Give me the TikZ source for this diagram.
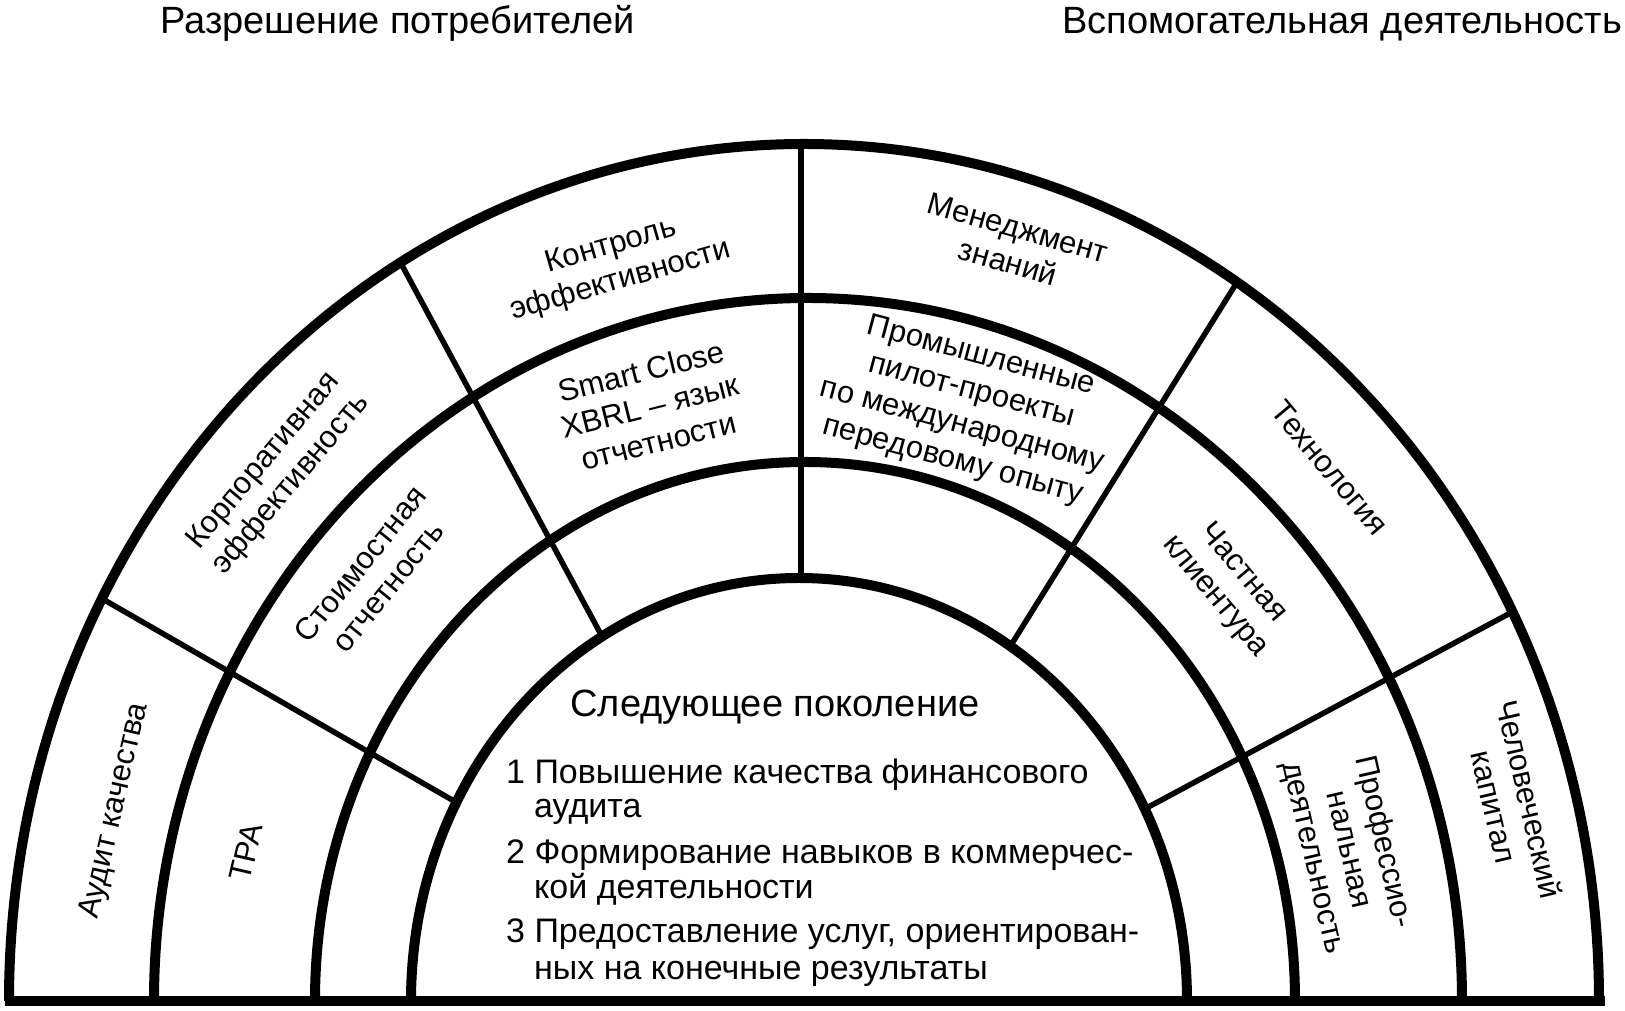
\documentclass[tikz,border=0pt]{standalone}
\usepackage{fontspec}
\setmainfont{Liberation Sans}
\usetikzlibrary{calc}
\begin{document}
\begin{tikzpicture}[x=1pt,y=1pt,
  arcline/.style={line width=10pt},
  radline/.style={line width=5.5pt},
  baseline/.style={line width=9.3pt},
  lbl/.style={align=center, font=\fontsize{31}{36}\selectfont, inner sep=0pt},
  inlist/.style={font=\fontsize{34}{40}\selectfont, inner sep=0pt, anchor=base west},
  headline/.style={font=\fontsize{38}{44}\selectfont, inner sep=0pt, anchor=base},
  toptitle/.style={font=\fontsize{38}{44}\selectfont, inner sep=0pt, anchor=base west}]
\useasboundingbox (0,0) rectangle (1625,1011);
% centres of the four arcs (the scanned figure is slightly irregular)
\coordinate (C1) at (804,10);
\coordinate (C2) at (808,10);
\coordinate (C3) at (805,10);
\coordinate (C4) at (799,10);
% radial dividers
\foreach \a/\n in {152/ra,120.5/rb,57/rd,27/re}{
  \coordinate (\n o) at ($(C1)+(\a:795pt and 857pt)$);
  \coordinate (\n i) at ($(C4)+(\a:388pt and 423pt)$);
  \draw[radline] (\n o) -- (\n i);
}
\coordinate (rco) at (801,867);
\coordinate (rci) at (801,433);
\draw[radline] (rco) -- (rci);
% arcs
\draw[arcline] ($(C1)+(180:795pt and 857pt)$) arc[start angle=180,end angle=0,x radius=795pt,y radius=857pt];
\draw[arcline] ($(C2)+(180:654pt and 703pt)$) arc[start angle=180,end angle=0,x radius=654pt,y radius=703pt];
\draw[arcline] ($(C3)+(180:490pt and 539pt)$) arc[start angle=180,end angle=0,x radius=490pt,y radius=539pt];
\draw[arcline] ($(C4)+(180:388pt and 423pt)$) arc[start angle=180,end angle=0,x radius=388pt,y radius=423pt];
% base line
\coordinate (bl) at (5,10);
\coordinate (br) at (1605,10);
\draw[baseline] (bl) -- (br);
% titles
\node[toptitle] (t1) at (160,977) {Разрешение потребителей};
\node[toptitle] (t2) at (1062,977) {Вспомогательная деятельность};
% outer band
\node[lbl, rotate=77] (o1) at (115,200) {Аудит качества};
\node[lbl, rotate=50] (o2) at (278,538) {Корпоративная\\эффективность};
\node[lbl, rotate=16] (o3) at (616,747) {Контроль\\эффективности};
\node[lbl, rotate=-16] (o4) at (1013,766) {Менеджмент\\знаний};
\node[lbl, rotate=-50] (o5) at (1330,543) {Технология};
\node[lbl, rotate=-77] (o6) at (1512,208) {Человеческий\\капитал};
% middle band
\node[lbl, rotate=77] (m1) at (246,159) {ТРА};
\node[lbl, rotate=51] (m2) at (374,436) {Стоимостная\\отчетность};
\node[lbl, rotate=14] (m3) at (650,605) {Smart Close\\XBRL – язык\\отчетности};
\node[lbl, rotate=-15] (m4) at (967,602) {Промышленные\\пилот-проекты\\по международному\\передовому опыту};
\node[lbl, rotate=-50] (m5) at (1229,426) {Частная\\клиентура};
\node[lbl, rotate=-77] (m6) at (1348,161) {Профессио-\\нальная\\деятельность};
% inner half disc
\node[headline] (h) at (775,294) {Следующее поколение};
\node[inlist] (l1) at (506,227) {1 Повышение качества финансового};
\node[inlist] (l1b) at (534,193) {аудита};
\node[inlist] (l2) at (506,147) {2 Формирование навыков в коммерчес-};
\node[inlist] (l2b) at (534,112) {кой деятельности};
\node[inlist] (l3) at (506,68) {3 Предоставление услуг, ориентирован-};
\node[inlist] (l3b) at (534,31) {ных на конечные результаты};
\end{tikzpicture}
\end{document}
